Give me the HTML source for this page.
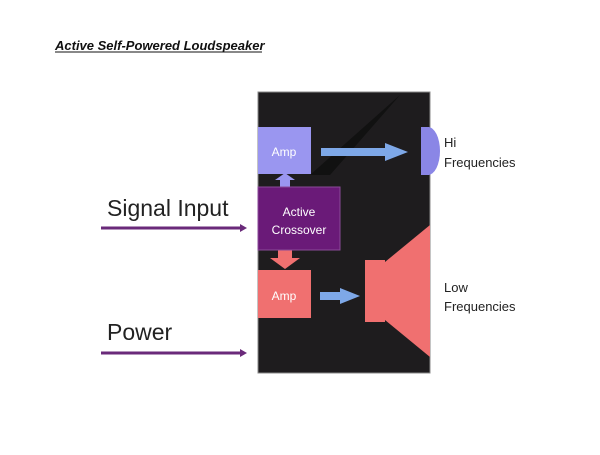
<!DOCTYPE html>
<html><head><style>
body{margin:0;width:600px;height:450px;background:#fff;overflow:hidden;font-family:"Liberation Sans",sans-serif}
</style></head><body>
<svg width="600" height="450" xmlns="http://www.w3.org/2000/svg">
<text x="55" y="50" font-size="13" font-weight="bold" font-style="italic" fill="#111">Active Self-Powered Loudspeaker</text>
<line x1="55" y1="52" x2="262" y2="52" stroke="#111" stroke-width="1"/>
<rect x="258" y="92" width="172" height="281" fill="#1e1c1e" stroke="#888" stroke-width="1"/>
<polygon points="310,175 400,95 330,175" fill="#111"/>
<path d="M428,127 A12,24 0 0 1 428,175z" fill="#8a86e6"/>
<rect x="421" y="127" width="8" height="48" fill="#8a86e6"/>
<polygon points="385,262 430,225 430,357 385,320" fill="#f07070"/>
<rect x="365" y="260" width="20" height="62" fill="#f07070"/>
<rect x="258" y="127" width="53" height="47" fill="#9a96f0"/>
<text x="284" y="156" font-size="12" fill="#fff" text-anchor="middle">Amp</text>
<rect x="258" y="270" width="53" height="48" fill="#f07070"/>
<text x="284" y="300" font-size="12" fill="#fff" text-anchor="middle">Amp</text>
<polygon points="280,187 280,180 275,180 285,173 295,180 290,180 290,187" fill="#9a96f0"/>
<polygon points="278,250 292,250 292,258 300,258 285,269 270,258 278,258" fill="#f07070"/>
<rect x="258" y="187" width="82" height="63" fill="#6a1a78" stroke="#8a4a98"/>
<text x="299" y="216" font-size="12" fill="#fff" text-anchor="middle">Active</text>
<text x="299" y="234" font-size="12" fill="#fff" text-anchor="middle">Crossover</text>
<polygon points="321,148 385,148 385,143 408,152 385,161 385,156 321,156" fill="#7ea8e8"/>
<polygon points="320,292 340,292 340,288 360,296 340,304 340,300 320,300" fill="#7ea8e8"/>
<text x="444" y="147" font-size="13" fill="#222">Hi</text>
<text x="444" y="167" font-size="13" fill="#222">Frequencies</text>
<text x="444" y="292" font-size="13" fill="#222">Low</text>
<text x="444" y="311" font-size="13" fill="#222">Frequencies</text>
<text x="107" y="216" font-size="23" fill="#222">Signal Input</text>
<text x="107" y="340" font-size="23" fill="#222">Power</text>
<line x1="101" y1="228" x2="242" y2="228" stroke="#6a2a7a" stroke-width="3"/>
<polygon points="240,224 247,228 240,232" fill="#6a2a7a"/>
<line x1="101" y1="353" x2="242" y2="353" stroke="#6a2a7a" stroke-width="3"/>
<polygon points="240,349 247,353 240,357" fill="#6a2a7a"/>
</svg>
</body></html>
